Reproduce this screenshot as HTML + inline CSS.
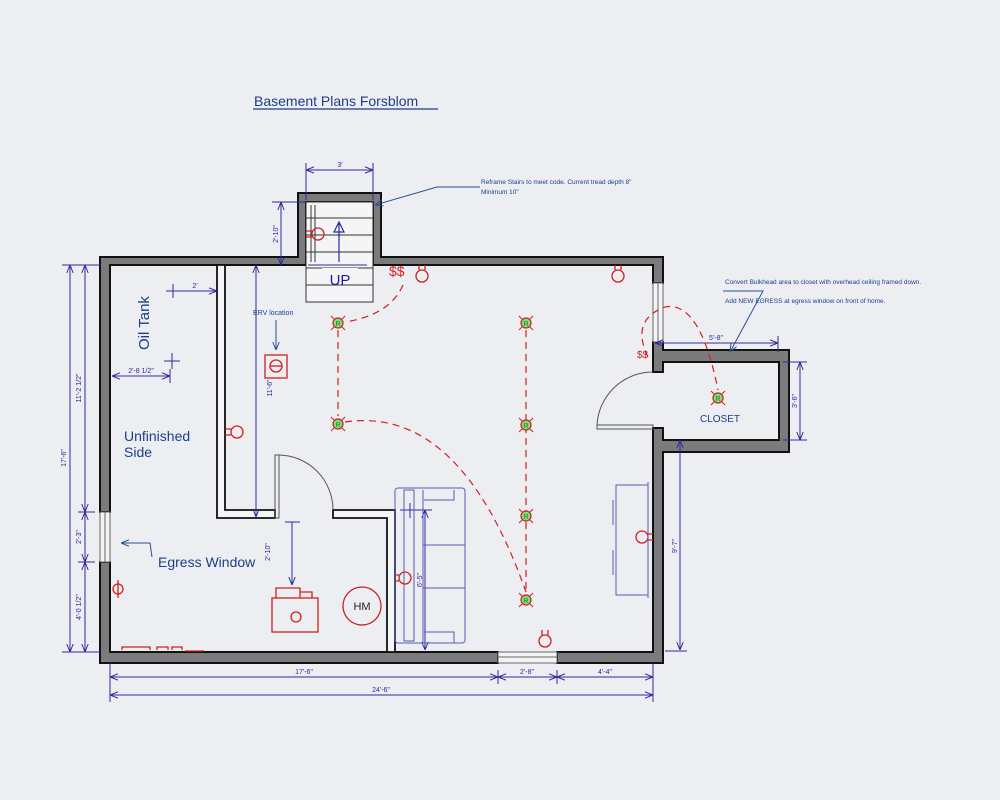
<!DOCTYPE html>
<html><head><meta charset="utf-8"><style>
html,body{margin:0;padding:0;background:#eceef2;}
svg{display:block;font-family:"Liberation Sans",sans-serif;}
</style></head><body>
<svg width="1000" height="800" viewBox="0 0 1000 800" xmlns="http://www.w3.org/2000/svg">
<defs>
<marker id="a" viewBox="0 0 10 10" refX="10" refY="5" markerWidth="8" markerHeight="8" orient="auto-start-reverse"><path d="M0,1 L10,5 L0,9" fill="none" stroke="#2a2aa0" stroke-width="1.2"/></marker>
<marker id="b" viewBox="0 0 10 10" refX="10" refY="5" markerWidth="8" markerHeight="8" orient="auto"><path d="M0,1 L10,5 L0,9" fill="none" stroke="#2a5090" stroke-width="1.2"/></marker>
<g id="R"><circle r="5" fill="#7de07d" stroke="#d02020" stroke-width="1.2"/><path d="M-7,-7 L-4,-4 M7,-7 L4,-4 M-7,7 L-4,4 M7,7 L4,4" stroke="#d02020" stroke-width="1"/><text y="3" font-size="7" text-anchor="middle" fill="#208020">R</text></g>
<g id="O"><circle r="6" fill="none" stroke="#d02020" stroke-width="1.3"/><path d="M-3,-6 V-11 M3,-6 V-11" stroke="#d02020" stroke-width="1.3"/></g>
</defs>

<text x="254" y="106" font-size="14" fill="#1c3f8a">Basement Plans Forsblom</text>
<line x1="253" y1="109" x2="438" y2="109" stroke="#1c3f8a" stroke-width="1.2"/>

<!-- exterior walls -->
<g fill="#7b7b7b" stroke="#111" stroke-width="2">
<path d="M100,257 H298 V193 H381 V257 H663 V283 H653 V265 H373 V202 H306 V265 H110 V512 H100 Z"/>
<path d="M100,562 H110 V652 H498 V663 H100 Z"/>
<path d="M557,652 H653 V428 H663 V452 H789 V350 H663 V372 H653 V342 H663 V350 H789 V452 H663 V663 H557 Z" fill="none" stroke="none"/>
<path d="M557,652 H653 V428 H663 V440 H779 V362 H663 V372 H653 V342 H663 V350 H789 V452 H663 V663 H557 Z"/>
</g>
<!-- windows -->
<g fill="#f4f4f4" stroke="#666" stroke-width="1">
<rect x="100" y="512" width="10" height="50"/><line x1="105" y1="512" x2="105" y2="562"/>
<rect x="498" y="652" width="59" height="11"/><line x1="498" y1="657" x2="557" y2="657"/>
<rect x="653" y="283" width="10" height="59"/><line x1="658" y1="283" x2="658" y2="342"/>
</g>
<!-- interior walls -->
<g fill="#f4f5f7" stroke="#111" stroke-width="1.8">
<path d="M217,265 H225 V510 H275 V518 H217 Z"/>
<path d="M333,510 H395 V652 H387 V518 H333 Z"/>
</g>
<!-- stairs -->
<g stroke="#333" stroke-width="1" fill="none">
<rect x="306" y="202" width="67" height="100" fill="#f4f5f7"/>
<line x1="306" y1="218" x2="373" y2="218"/><line x1="306" y1="235" x2="373" y2="235"/><line x1="306" y1="252" x2="373" y2="252"/>
<line x1="306" y1="268" x2="373" y2="268"/><line x1="306" y1="285" x2="373" y2="285"/>
<line x1="311" y1="205" x2="311" y2="262"/><line x1="315" y1="205" x2="315" y2="262"/>
</g>
<rect x="322" y="268" width="36" height="16" fill="#f4f5f7"/>
<text x="340" y="285" font-size="15" fill="#1a1aa0" text-anchor="middle">UP</text>
<path d="M339,262 V222 M334,232 L339,222 L344,232 Z" stroke="#2a2aa0" fill="#f4f5f7" stroke-width="1.2"/>
<line x1="308" y1="265" x2="367" y2="265" stroke="#2a2aa0" stroke-width="1"/>

<!-- doors -->
<g fill="none" stroke="#555" stroke-width="1">
<rect x="275" y="455" width="4" height="63"/><path d="M279,455 A55,55 0 0 1 333,510"/>
<rect x="597" y="425" width="56" height="4"/><path d="M597,425 A56,56 0 0 1 653,372"/>
</g>

<!-- dimensions -->
<g stroke="#2a2aa0" stroke-width="1" fill="none">
<line x1="70" y1="265" x2="70" y2="652" marker-start="url(#a)" marker-end="url(#a)"/>
<line x1="85" y1="265" x2="85" y2="512" marker-start="url(#a)" marker-end="url(#a)"/>
<line x1="85" y1="512" x2="85" y2="562" marker-start="url(#a)" marker-end="url(#a)"/>
<line x1="85" y1="562" x2="85" y2="652" marker-start="url(#a)" marker-end="url(#a)"/>
<path d="M62,265 H100 M62,652 H100 M78,512 H95 M78,562 H95"/>
<line x1="110" y1="677" x2="498" y2="677" marker-start="url(#a)" marker-end="url(#a)"/>
<line x1="498" y1="677" x2="557" y2="677" marker-start="url(#a)" marker-end="url(#a)"/>
<line x1="557" y1="677" x2="653" y2="677" marker-start="url(#a)" marker-end="url(#a)"/>
<line x1="110" y1="695" x2="653" y2="695" marker-start="url(#a)" marker-end="url(#a)"/>
<path d="M110,663 V702 M653,663 V702 M498,670 V684 M557,670 V684"/>
<line x1="306" y1="170" x2="373" y2="170" marker-start="url(#a)" marker-end="url(#a)"/>
<path d="M306,163 V200 M373,163 V200"/>
<line x1="281" y1="202" x2="281" y2="265" marker-start="url(#a)" marker-end="url(#a)"/>
<path d="M272,202 H306"/>
<line x1="256" y1="265" x2="256" y2="517" marker-start="url(#a)" marker-end="url(#a)"/>
<line x1="173" y1="291" x2="217" y2="291" marker-end="url(#a)"/><path d="M173,284 V298 M166,291 H180"/>
<line x1="112" y1="376" x2="170" y2="376" marker-start="url(#a)" marker-end="url(#a)"/><path d="M170,369 V383"/>
<path d="M164,361 H180 M172,353 V369"/>
<line x1="292" y1="522" x2="292" y2="585" marker-end="url(#a)"/><path d="M285,522 H300"/>
<line x1="425" y1="510" x2="425" y2="650" marker-start="url(#a)" marker-end="url(#a)"/><path d="M400,510 H432 M410,503 V518"/>
<line x1="655" y1="343" x2="778" y2="343" marker-start="url(#a)" marker-end="url(#a)"/><path d="M778,336 V352"/>
<line x1="800" y1="362" x2="800" y2="440" marker-start="url(#a)" marker-end="url(#a)"/><path d="M783,362 H807 M783,440 H807"/>
<line x1="680" y1="440" x2="680" y2="650" marker-start="url(#a)" marker-end="url(#a)"/><path d="M665,651 H687"/>
</g>
<g font-size="7" fill="#2a2aa0" text-anchor="middle">
<text transform="translate(66,458) rotate(-90)">17'-6"</text>
<text transform="translate(81,388) rotate(-90)">11'-2 1/2"</text>
<text transform="translate(81,537) rotate(-90)">2'-3"</text>
<text transform="translate(81,607) rotate(-90)">4'-0 1/2"</text>
<text x="304" y="674">17'-6"</text>
<text x="527" y="674">2'-8"</text>
<text x="605" y="674">4'-4"</text>
<text x="381" y="692">24'-6"</text>
<text x="340" y="167">3'</text>
<text transform="translate(278,234) rotate(-90)">2'-10"</text>
<text transform="translate(272,388) rotate(-90)">11'-6"</text>
<text x="195" y="288">2'</text>
<text x="141" y="373">2'-8 1/2"</text>
<text transform="translate(270,552) rotate(-90)">2'-10"</text>
<text transform="translate(422,580) rotate(-90)">6'-5"</text>
<text x="716" y="340">5'-8"</text>
<text transform="translate(797,401) rotate(-90)">3'-6"</text>
<text transform="translate(677,546) rotate(-90)">9'-7"</text>
</g>

<!-- labels -->
<g fill="#1c3f8a">
<text transform="translate(149,350) rotate(-90)" font-size="15">Oil Tank</text>
<text x="124" y="441" font-size="14">Unfinished</text>
<text x="124" y="457" font-size="14">Side</text>
<text x="158" y="567" font-size="14">Egress Window</text>
<text x="700" y="422" font-size="10">CLOSET</text>
<text x="253" y="315" font-size="7">ERV location</text>
<text x="481" y="184" font-size="6.5">Reframe Stairs to meet code. Current tread depth 8"</text>
<text x="481" y="194" font-size="6.5">Minimum 10"</text>
<text x="725" y="284" font-size="6.5">Convert Bulkhead area to closet with overhead ceiling framed down.</text>
<text x="725" y="303" font-size="6.5">Add NEW EGRESS at egress window on front of home.</text>
</g>
<g stroke="#2a5090" stroke-width="1" fill="none">
<path d="M480,187 L437,187 L375,205" marker-end="url(#b)"/>
<path d="M723,291 H763 L730,352" marker-end="url(#b)"/>
<path d="M152,557 L150,543 L121,543" marker-end="url(#b)"/>
<path d="M276,320 V350" marker-end="url(#b)"/>
</g>

<!-- electrical -->
<g stroke="#d02020" stroke-width="1.2" fill="none" stroke-dasharray="7,5">
<line x1="338" y1="330" x2="338" y2="416"/>
<line x1="526" y1="330" x2="526" y2="592"/>
<path d="M403,285 Q390,315 345,322"/>
<path d="M345,422 Q460,405 526,592"/>
<path d="M648,357 Q630,320 665,307 Q700,300 718,390"/>
</g>
<g fill="#d02020" font-size="14"><text x="389" y="276">$$</text><text x="637" y="358" font-size="10">$$</text></g>
<use href="#R" x="338" y="323"/><use href="#R" x="338" y="424"/>
<use href="#R" x="526" y="323"/><use href="#R" x="526" y="425"/>
<use href="#R" x="526" y="516"/><use href="#R" x="526" y="600"/>
<use href="#R" x="718" y="398"/>
<use href="#O" x="422" y="276"/><use href="#O" x="618" y="276"/><use href="#O" x="545" y="641" transform="rotate(0)"/>
<g stroke="#d02020" stroke-width="1.3" fill="none">
<circle cx="318" cy="234" r="6"/><path d="M306,231 H312 M306,237 H312"/>
<circle cx="237" cy="432" r="6"/><path d="M225,429 H231 M225,435 H231"/>
<circle cx="405" cy="578" r="6"/><path d="M395,575 H399 M395,581 H399"/>
<circle cx="642" cy="537" r="6"/><path d="M648,534 H653 M648,540 H653"/>
<circle cx="118" cy="589" r="5"/><path d="M118,580 V598"/>
<rect x="265" y="355" width="22" height="23"/><circle cx="276" cy="366" r="6"/><path d="M270,366 H282"/>
<rect x="272" y="598" width="46" height="34"/><circle cx="296" cy="617" r="5"/>
<path d="M276,598 V588 H300 V598 M300,592 H312 V598"/>
<circle cx="362" cy="606" r="19"/>
<path d="M122,650 V647 H150 V650 M157,650 V647 H168 V650 M172,650 V647 H182 V650 M185,651 H204"/>
</g>
<text x="362" y="610" font-size="11" text-anchor="middle" fill="#222">HM</text>

<!-- sofa -->
<g stroke="#5a5ab5" stroke-width="1" fill="none">
<rect x="395" y="488" width="70" height="155" rx="3"/>
<rect x="404" y="490" width="10" height="151"/>
<path d="M423,490 V643 M423,545 H465 M423,588 H465 M424,500 H454 V490 M424,632 H454 V643"/>
<rect x="616" y="485" width="32" height="110"/>
<path d="M648,482 V598 M613,500 V525 M613,550 V575"/>
</g>
</svg>
</body></html>
